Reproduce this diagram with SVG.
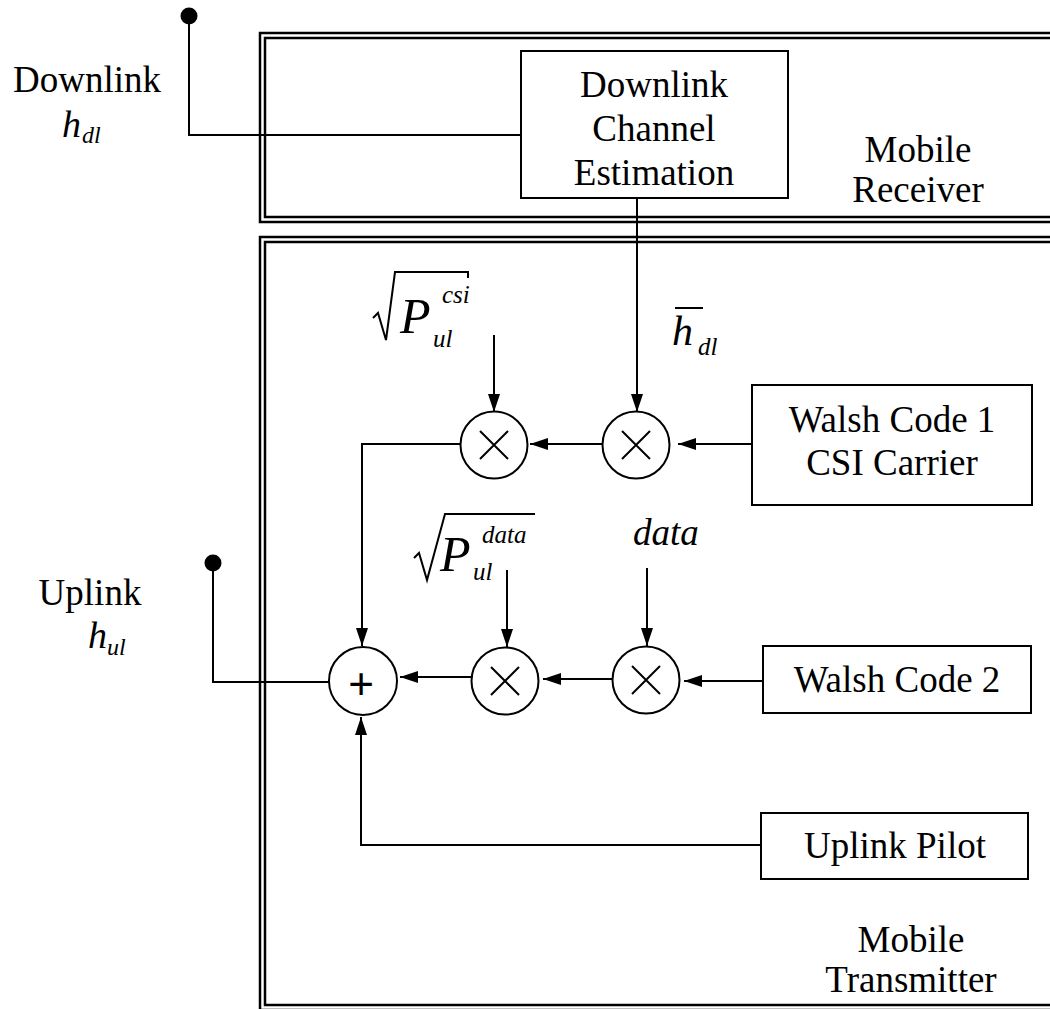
<svg xmlns="http://www.w3.org/2000/svg" width="1050" height="1009" viewBox="0 0 1050 1009">
<style>
.frame{fill:none;stroke:#000;stroke-width:2.5}
.box{fill:#fff;stroke:#000;stroke-width:2}
.op{fill:#fff;stroke:#000;stroke-width:2}
.ln{fill:none;stroke:#000;stroke-width:2}
.arr{fill:none;stroke:#000;stroke-width:2;marker-end:url(#ah)}
.t{font-family:"Liberation Serif","Times New Roman",serif;font-size:37px;fill:#000;text-anchor:middle}
.m{font-family:"Liberation Serif","Times New Roman",serif;font-style:italic;fill:#000}
</style>
<defs>
<marker id="ah" markerWidth="18" markerHeight="12" refX="18" refY="6" orient="auto" markerUnits="userSpaceOnUse">
<path d="M0,0 L18,6 L0,12 Z" fill="#000"/>
</marker>
</defs>
<rect width="1050" height="1009" fill="#fff"/>
<g id="frame-receiver">
<path class="frame" d="M1060,33 H260 V222 H1060"/>
<path class="frame" d="M1060,38 H265 V217 H1060"/>
</g>
<g id="frame-transmitter">
<path class="frame" d="M1060,237 H260 V1010 H1060"/>
<path class="frame" d="M1060,242 H265 V1005 H1060"/>
</g>
<g id="connectors">
<circle cx="189" cy="16" r="8.5" fill="#000"/>
<path class="ln" d="M189,16 V135 H521"/>
<path class="arr" d="M637,198 V412"/>
<path class="arr" d="M494,335 V412"/>
<path class="arr" d="M752,444 H678"/>
<path class="arr" d="M602,444 H530"/>
<path class="arr" d="M460,444 H362 V646"/>
<path class="arr" d="M647,568 V646"/>
<path class="arr" d="M507,570 V647"/>
<path class="arr" d="M763,681 H684"/>
<path class="arr" d="M613,679 H543"/>
<path class="arr" d="M472,677 H400"/>
<path class="arr" d="M761,845 H361 V717"/>
<circle cx="213" cy="563" r="8.5" fill="#000"/>
<path class="ln" d="M213,563 V682 H329"/>
</g>
<g id="dce">
<rect class="box" x="521" y="51" width="267" height="147"/>
<text class="t" x="654" y="97">Downlink</text>
<text class="t" x="654" y="141">Channel</text>
<text class="t" x="654" y="185">Estimation</text>
</g>
<g id="walsh1">
<rect class="box" x="752" y="385" width="280" height="120"/>
<text class="t" x="892" y="432">Walsh Code 1</text>
<text class="t" x="892" y="475">CSI Carrier</text>
</g>
<g id="walsh2">
<rect class="box" x="763" y="646" width="268" height="67"/>
<text class="t" x="897" y="692">Walsh Code 2</text>
</g>
<g id="pilot">
<rect class="box" x="761" y="813" width="267" height="66"/>
<text class="t" x="895" y="858">Uplink Pilot</text>
</g>
<g id="mult1">
<circle class="op" cx="494" cy="445" r="33.5"/>
<path class="ln" d="M480,431 L508,459 M508,431 L480,459"/>
</g>
<g id="mult2">
<circle class="op" cx="636" cy="445" r="33.5"/>
<path class="ln" d="M622,431 L650,459 M650,431 L622,459"/>
</g>
<g id="mult3">
<circle class="op" cx="505" cy="681" r="33.5"/>
<path class="ln" d="M491,667 L519,695 M519,667 L491,695"/>
</g>
<g id="mult4">
<circle class="op" cx="646" cy="680" r="33.5"/>
<path class="ln" d="M632,666 L660,694 M660,666 L632,694"/>
</g>
<g id="sum">
<circle class="op" cx="363" cy="681" r="34"/>
<text x="361" y="699" font-family="Liberation Sans, Arial, sans-serif" font-size="44" text-anchor="middle">+</text>
</g>
<g id="labels">
<text class="t" x="87" y="92">Downlink</text>
<text class="m" x="62" y="137" font-size="38">h</text>
<text class="m" x="82" y="143" font-size="24">dl</text>
<text class="t" x="918" y="162">Mobile</text>
<text class="t" x="918" y="202">Receiver</text>
<text class="t" x="90" y="605">Uplink</text>
<text class="m" x="88" y="648" font-size="38">h</text>
<text class="m" x="107" y="655" font-size="24">ul</text>
<text class="t" x="911" y="952">Mobile</text>
<text class="t" x="911" y="992">Transmitter</text>
<text class="m" x="633" y="545" font-size="37">data</text>
<text class="m" x="672" y="345" font-size="42">h</text>
<line class="ln" x1="675" y1="308" x2="703" y2="308"/>
<text class="m" x="698" y="355" font-size="25">dl</text>
<path class="ln" d="M373,318 L378,313 L386,340 L395,272 H468 V278"/>
<text class="m" x="400" y="333" font-size="50">P</text>
<text class="m" x="442" y="303" font-size="25">csi</text>
<text class="m" x="433" y="347" font-size="25">ul</text>
<path class="ln" d="M414,558 L419,553 L427,580 L445,514 H535"/>
<text class="m" x="440" y="571" font-size="50">P</text>
<text class="m" x="482" y="543" font-size="25">data</text>
<text class="m" x="473" y="580" font-size="25">ul</text>
</g>
</svg>
